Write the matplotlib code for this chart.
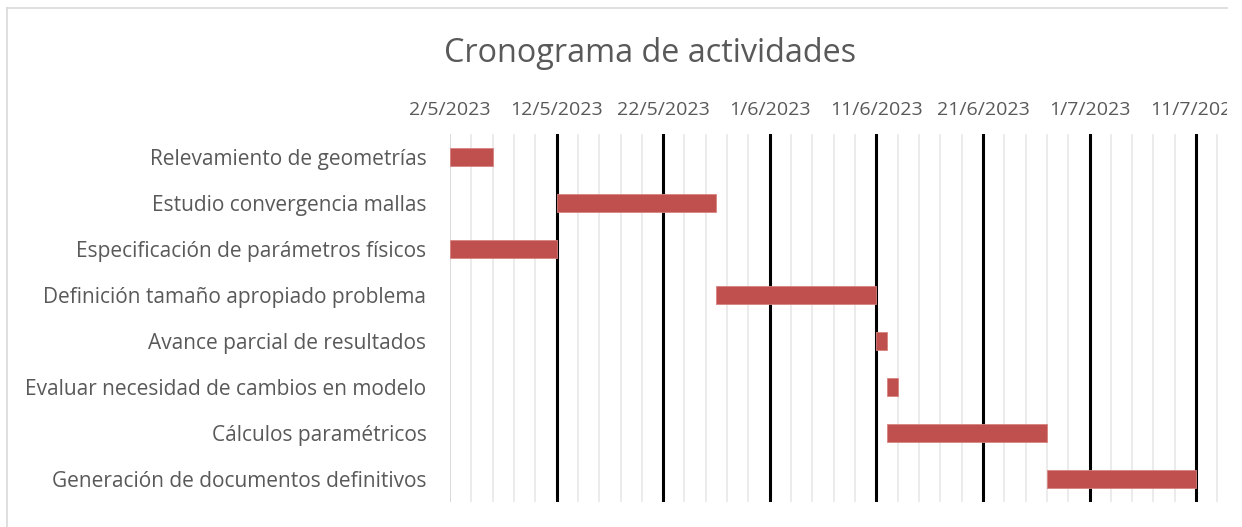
from datetime import date

import matplotlib

matplotlib.use("Agg")

import matplotlib.dates as mdates  # noqa: E402
import matplotlib.pyplot as plt  # noqa: E402
from matplotlib.lines import Line2D  # noqa: E402
from matplotlib.patches import Rectangle  # noqa: E402
from matplotlib.ticker import FixedLocator, FuncFormatter  # noqa: E402

# actividades, fecha de inicio y duración (días)
tasks = [
    "Relevamiento de geometrías",
    "Estudio convergencia mallas",
    "Especificación de parámetros físicos",
    "Definición tamaño apropiado problema",
    "Avance parcial de resultados",
    "Evaluar necesidad de cambios en modelo",
    "Cálculos paramétricos",
    "Generación de documentos definitivos",
]
starts = [
    date(2023, 5, 2),
    date(2023, 5, 12),
    date(2023, 5, 2),
    date(2023, 5, 27),
    date(2023, 6, 11),
    date(2023, 6, 12),
    date(2023, 6, 12),
    date(2023, 6, 27),
]
durations = [4, 15, 10, 15, 1, 1, 15, 14]

x_start = date(2023, 5, 2)
x_days = 72.9  # el gráfico queda recortado a la derecha
major_step = 10
minor_step = 2

W, H = 1242, 527
TXT = "#595959"
plt.rcParams["font.family"] = ["Open Sans", "DejaVu Sans"]

fig = plt.figure(figsize=(W / 100, H / 100), dpi=100)
ax = fig.add_axes([450 / W, (H - 502) / H, (1227 - 450) / W, (502 - 134) / H])

x0 = mdates.date2num(x_start)
ax.set_xlim(x0, x0 + x_days)
ax.set_ylim(len(tasks) - 0.5, -0.5)

ax.barh(
    range(len(tasks)),
    durations,
    left=[mdates.date2num(s) for s in starts],
    height=0.4,
    color="#C0504D",
    edgecolor="#D7827F",
    linewidth=0.6,
    zorder=3,
)

# rejilla: mayor cada 10 días (negra), menor cada 2 días (gris claro)
majors = [x0 + d for d in range(0, 80, major_step)]
minors = [x0 + d for d in range(0, 80, minor_step) if d % major_step]
ax.xaxis.set_major_locator(FixedLocator(majors))
ax.xaxis.set_minor_locator(FixedLocator(minors))


def fmt_date(v, _):
    d = mdates.num2date(v)
    return f"{d.day}/{d.month}/{d.year}"


ax.xaxis.set_major_formatter(FuncFormatter(fmt_date))
for m in minors:
    ax.axvline(m, color="#EBEBEB", lw=1.4, zorder=1)
for m in majors[1:]:
    ax.axvline(m, color="black", lw=2.2, zorder=2)
ax.axvline(x0, color="#D9D9D9", lw=1.4, zorder=2)

ax.xaxis.tick_top()
ax.tick_params(axis="x", which="both", length=0, pad=11, labelsize=14, labelcolor=TXT)
ax.set_yticks(range(len(tasks)))
ax.set_yticklabels(tasks)
ax.tick_params(axis="y", length=0, pad=17, labelsize=15, labelcolor=TXT)
for s in ax.spines.values():
    s.set_visible(False)

fig.text(650 / W, 1 - 53 / H, "Cronograma de actividades", ha="center", va="center",
         fontsize=23.3, color=TXT)

# recorte del área del gráfico y su borde
fig.patches.append(Rectangle((1227 / W, 0), 1, 1, transform=fig.transFigure,
                             facecolor="white", edgecolor="none", zorder=10))
fig.lines.append(Line2D([7 / W, 1227 / W], [1 - 8 / H, 1 - 8 / H], transform=fig.transFigure,
                        color="#D9D9D9", lw=1.2, zorder=11))
fig.lines.append(Line2D([7 / W, 7 / W], [0, 1 - 8 / H], transform=fig.transFigure,
                        color="#D9D9D9", lw=1.2, zorder=11))

fig.savefig("out.png", dpi=100)
